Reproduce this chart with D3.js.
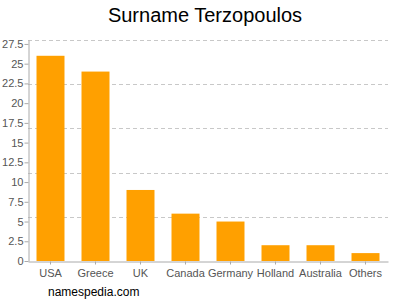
<!DOCTYPE html>
<html><head><meta charset="utf-8">
<script src="https://cdn.jsdelivr.net/npm/d3@7"></script>
<style>body{margin:0;background:#fff}svg{display:block}text{font-family:"Liberation Sans",Arial,sans-serif}</style>
</head><body><svg id="c" width="400" height="300"></svg>
<script>
const categories = ["USA","Greece","UK","Canada","Germany","Holland","Australia","Others"];
const values = [26,24,9,6,5,2,2,1];
const yTicks = [0,2.5,5,7.5,10,12.5,15,17.5,20,22.5,25,27.5];
const gridValues = [5.6,11.2,16.8,22.4,28];
const title = "Surname Terzopoulos";
const credit = "namespedia.com";

(function(){
const svg = d3.select("#c");
const mL = 28, mR = 388, mT = 40, mB = 261;
const x = d3.scaleBand().domain(categories).range([mL, mR]).paddingInner(0.378).paddingOuter(0.189);
const y = d3.scaleLinear().domain([0, 28]).range([mB, mT]);

svg.append("text").attr("x", 205).attr("y", 22).attr("text-anchor","middle")
  .attr("font-size", 20).attr("fill","#000").text(title);

svg.append("g").selectAll("line").data(gridValues).join("line")
  .attr("x1", mL).attr("x2", mR).attr("y1", d=>Math.round(y(d))+0.5).attr("y2", d=>Math.round(y(d))+0.5)
  .attr("stroke","#c8c8c8").attr("stroke-dasharray","4,3");

svg.append("g").selectAll("rect").data(values).join("rect")
  .attr("x",(d,i)=>x(categories[i])).attr("width",x.bandwidth())
  .attr("y",d=>y(d)).attr("height",d=>mB-y(d)).attr("fill","#ffa000");

const ya = svg.append("g").attr("transform",`translate(${mL+0.5},0)`)
  .call(d3.axisLeft(y).tickValues(yTicks).tickSize(4).tickSizeOuter(0).tickFormat(d3.format("")));
ya.select(".domain").attr("stroke","#aaa");
ya.selectAll(".tick line").attr("stroke","#aaa");
ya.selectAll(".tick text").attr("fill","#555").attr("font-size",11).attr("font-family","Liberation Sans, Arial, sans-serif").attr("x",-5);

const xa = svg.append("g").attr("transform",`translate(0,${mB+0.5})`)
  .call(d3.axisBottom(x).tickSize(3).tickSizeOuter(0));
xa.select(".domain").attr("stroke","#aaa");
xa.selectAll(".tick line").attr("stroke","#aaa");
xa.selectAll(".tick text").attr("fill","#555").attr("font-size",11).attr("font-family","Liberation Sans, Arial, sans-serif").attr("dy","0.9em");

svg.append("text").attr("x",48).attr("y",296).attr("font-size",12).attr("fill","#000").text(credit);
})();
</script></body></html>
